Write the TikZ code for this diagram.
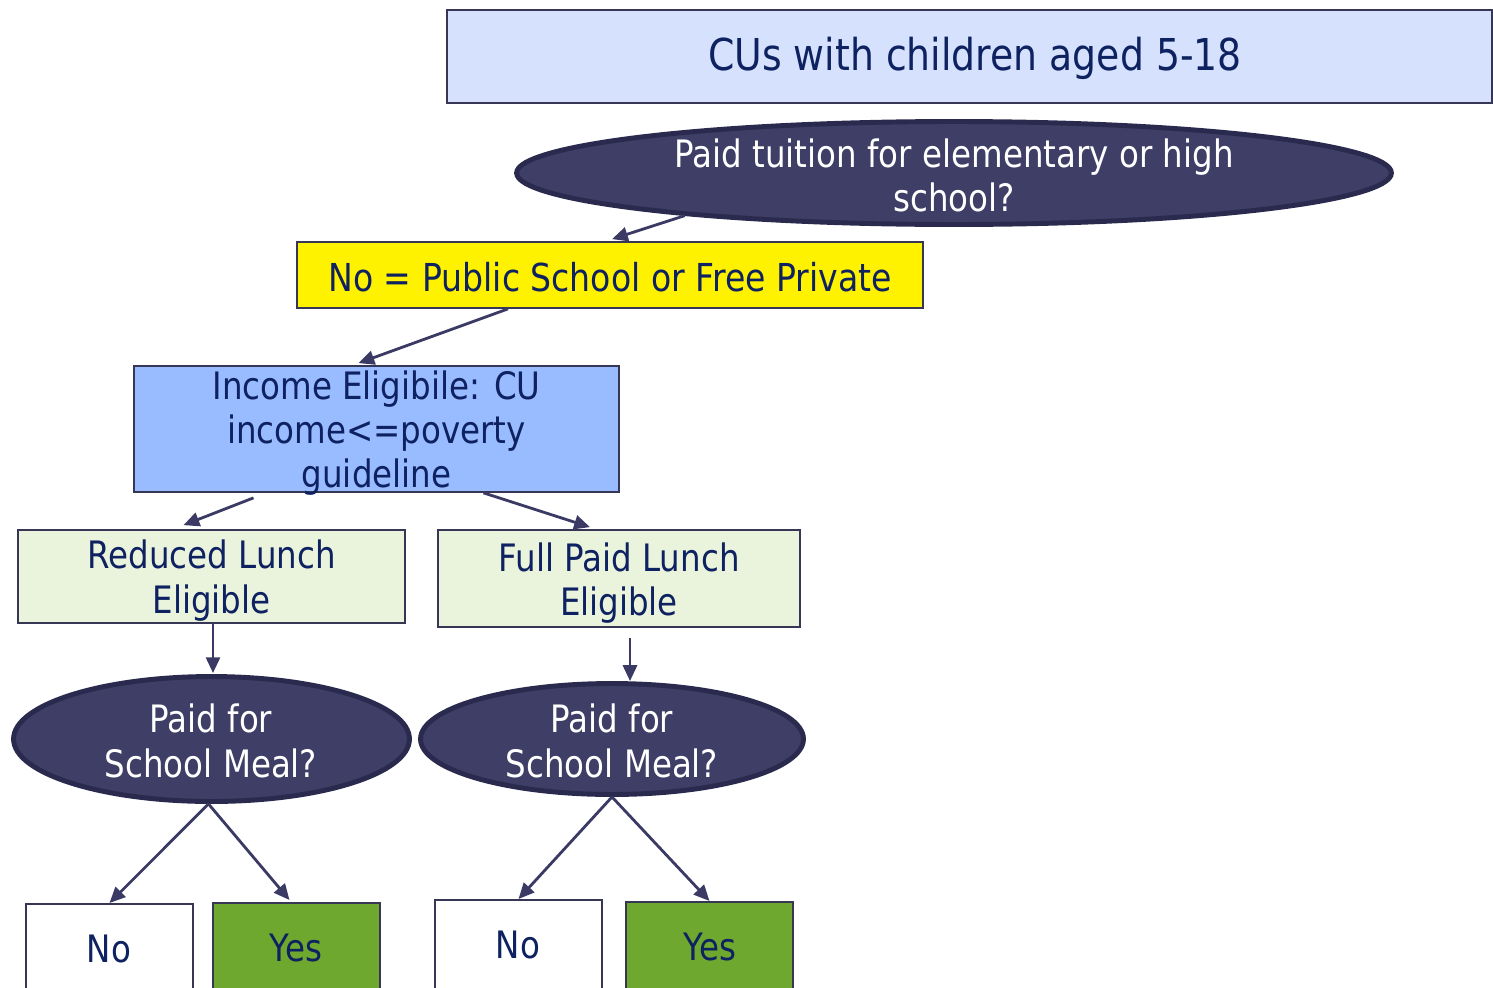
\documentclass[tikz,border=0pt]{standalone}
\usepackage{fontspec}
\setmainfont{DejaVu Sans}[FakeStretch=0.86]
\usetikzlibrary{shapes.geometric,arrows.meta,calc}
\definecolor{ink}{RGB}{14,33,96}
\definecolor{edge}{RGB}{55,55,85}
\definecolor{askfill}{RGB}{62,62,102}
\definecolor{askedge}{RGB}{42,42,78}
\definecolor{linkc}{RGB}{58,58,100}
\definecolor{topfill}{RGB}{214,226,253}
\definecolor{incfill}{RGB}{153,187,255}
\definecolor{lunchfill}{RGB}{234,244,221}
\definecolor{yesfill}{RGB}{111,168,46}
\begin{document}
\begin{tikzpicture}[x=0.02cm,y=-0.02cm,
  box/.style={draw=edge,line width=1pt,rectangle,inner sep=0pt,text=ink,align=center},
  ask/.style={draw=askedge,fill=askfill,ellipse,line width=2.8pt,inner sep=0pt},
  lbl/.style={inner sep=0pt,align=center,text=ink},
  body/.style={font=\fontsize{21.5}{25.5}\selectfont},
  leaf/.style={box,minimum width=3.34cm,minimum height=2cm,anchor=north},
  link/.style={draw=linkc,line width=1.6pt,-{Triangle[length=9pt,width=8pt]}}]
\useasboundingbox (0,0) rectangle (1493,987);
\clip (0,0) rectangle (1493,987);

% population box
\node[box,fill=topfill,minimum width=20.9cm,minimum height=1.86cm] (top) at (969.5,56.5) {};
\node[lbl,font=\fontsize{25}{30}\selectfont] (toptext) at (975,58) {CUs with children aged 5-18};

% tuition question
\node[ask,minimum width=17.5cm,minimum height=2.06cm] (q1) at (954,173) {};
\node[lbl,body,text=white] (q1text) at (954,175.5) {Paid tuition for elementary or high\\school?};

% public school branch
\node[box,fill=yellow,minimum width=12.52cm,minimum height=1.32cm] (pub) at (610,275) {};
\node[lbl,font=\fontsize{21.9}{25.5}\selectfont] (pubtext) at (610,277) {No = Public School or Free Private};

% income test
\node[box,fill=incfill,minimum width=9.7cm,minimum height=2.52cm] (inc) at (376.5,429) {};
\node[lbl,font=\fontsize{21.5}{25}\selectfont] (inctext) at (376.5,433)
  {Income Eligibile: CU\\income<=poverty\\guideline};

% lunch eligibility
\node[box,fill=lunchfill,minimum width=7.74cm,minimum height=1.86cm] (red) at (211.5,576.5) {};
\node[lbl,body] (redtext) at (211.5,580.5) {Reduced Lunch\\Eligible};
\node[box,fill=lunchfill,minimum width=7.24cm,minimum height=1.94cm] (full) at (619,578.5) {};
\node[lbl,body] (fulltext) at (619,583) {Full Paid Lunch\\Eligible};

% meal questions
\node[ask,minimum width=7.92cm,minimum height=2.5cm] (qL) at (211.5,739) {};
\node[lbl,body,text=white] (qLtext) at (211,741) {Paid for\\School Meal?};
\node[ask,minimum width=7.66cm,minimum height=2.22cm] (qR) at (612,739) {};
\node[lbl,body,text=white] (qRtext) at (612,741) {Paid for\\School Meal?};

% answers
\node[leaf,fill=white] (noL) at (109.5,903) {};
\node[leaf,fill=yesfill] (yesL) at (296.5,902) {};
\node[leaf,fill=white] (noR) at (518.5,899) {};
\node[leaf,fill=yesfill] (yesR) at (709.5,901) {};
\node[lbl,body] (noLtext) at (109,949) {No};
\node[lbl,body] (yesLtext) at (296,948) {Yes};
\node[lbl,body] (noRtext) at (518,945) {No};
\node[lbl,body] (yesRtext) at (710,947) {Yes};

% connectors
\draw[link] (q1.189) -- ($(pub.north)+(2,-2)$);
\draw[link] ($(pub.south)+(-102,0)$) -- ($(inc.north)+(-18,-2)$);
\draw[link] ($(inc.south)+(-123,5)$) -- ($(red.north)+(-28,-4)$);
\draw[link] ($(inc.south)+(107,0)$) -- ($(full.north)+(-29,-2)$);
\draw[link] ($(red.south)+(1.5,0)$) -- ($(qL.north)+(1.5,-1)$);
\draw[link] ($(full.south)+(11,10)$) -- ($(qR.north)+(18,0)$);
\draw[link] ($(qL.south)+(-3,0)$) -- (noL.north);
\draw[link] ($(qL.south)+(-3,0)$) -- ($(yesL.north)+(-7,-2)$);
\draw[link] (qR.south) -- (noR.north);
\draw[link] (qR.south) -- (yesR.north);
\end{tikzpicture}
\end{document}
